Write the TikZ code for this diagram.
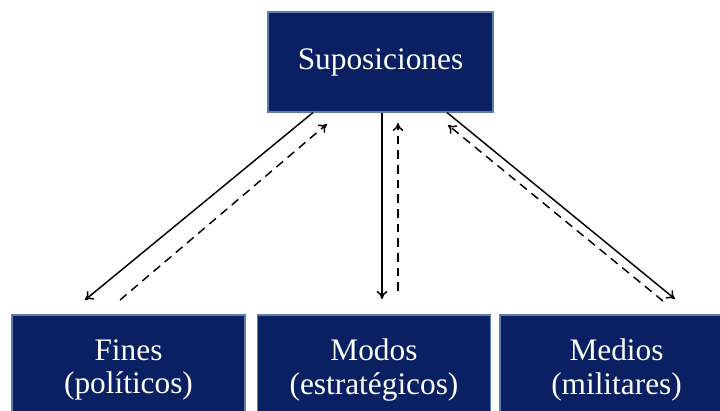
\documentclass[tikz,border=0pt]{standalone}
\usepackage{fontspec}
\setmainfont{Liberation Serif}
\usetikzlibrary{arrows.meta}
\definecolor{navy}{RGB}{10,32,98}
\definecolor{rim}{RGB}{95,125,175}

\begin{document}
\begin{tikzpicture}[x=0.75pt, y=-0.75pt,
    box/.style = {draw=rim, fill=navy, text=white, align=center, inner sep=0pt, line width=0.8pt, font=\fontsize{23.5}{25}\selectfont},
    top/.style = {box, minimum width=168.75pt, minimum height=75pt},
    low/.style = {box, minimum width=174.75pt, minimum height=82.5pt},
    there/.style = {-{To[length=6pt,width=8pt]}, line width=1.1pt},
    back/.style = {there, dash pattern=on 6.5pt off 4.5pt}]
  \useasboundingbox (0,0) rectangle (720,410);
  \clip (0,0) rectangle (720,410);
  \node[top] (sup) at (380.5,62) {Suposiciones};
  \node[low] (fines) at (128.5,370) {Fines\\(políticos)};
  \node[low] (modos) at (374,370) {Modos\\(estratégicos)};
  \node[low] (medios) at (616.5,370) {Medios\\(militares)};
  \coordinate (fa) at (85,300);
  \coordinate (fb) at (120,300);
  \coordinate (fc) at (327,124);
  \coordinate (ma) at (382,299);
  \coordinate (mb) at (398,291);
  \coordinate (mc) at (398,123);
  \coordinate (da) at (675,299);
  \coordinate (db) at (663,301);
  \coordinate (dc) at (448,125);
  \draw[there] (sup.south -| 313,0) -- (fa);
  \draw[back] (fb) -- (fc);
  \draw[there] (sup.south -| 382,0) -- (ma);
  \draw[back] (mb) -- (mc);
  \draw[there] (sup.south -| 447,0) -- (da);
  \draw[back] (db) -- (dc);
\end{tikzpicture}
\end{document}
